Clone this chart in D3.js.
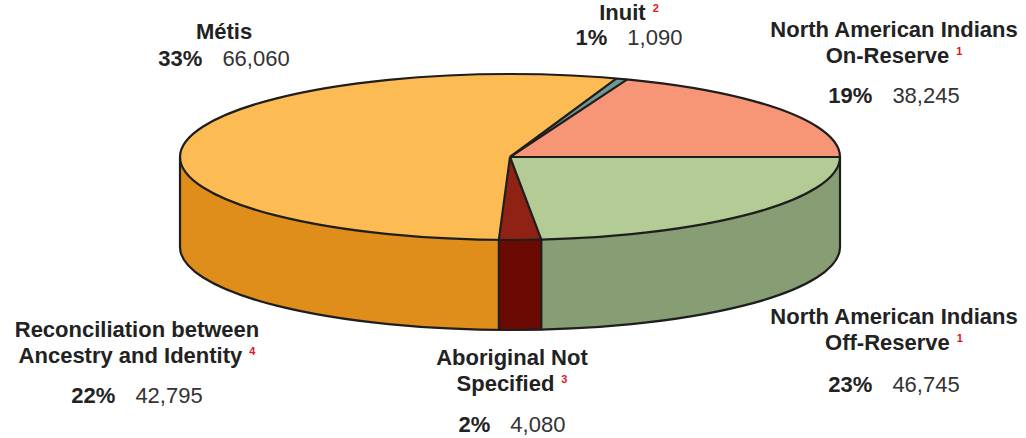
<!DOCTYPE html>
<html>
<head>
<meta charset="utf-8">
<script src="https://cdn.jsdelivr.net/npm/d3@7"></script>
<style>
    body { margin: 0; background: #fff; }
    text { font-family: "Liberation Sans", Arial, Helvetica, sans-serif; }
</style>
</head>
<body>
<svg id="chart" width="1026" height="438"></svg>
<script>
// slices, clockwise starting from 3 o'clock
var categories = ["North American Indians Off-Reserve", "Aboriginal Not Specified",
    "Reconciliation between Ancestry and Identity", "Métis", "Inuit", "North American Indians On-Reserve"];
var values = [46745, 4080, 42795, 66060, 1090, 38245];
var percents = ["23%", "2%", "22%", "33%", "1%", "19%"];
var footnotes = ["1", "3", "4", "", "2", "1"];
var nameLines = [
    ["North American Indians", "Off-Reserve"],
    ["Aboriginal Not", "Specified"],
    ["Reconciliation between", "Ancestry and Identity"],
    ["Métis"],
    ["Inuit"],
    ["North American Indians", "On-Reserve"]
];

// colours (top face / side wall)
var topColors = ["#b3cc96", "#8f2115", "#fdbb53", "#fdbb53", "#6f9893", "#f69676"];
var sideColors = ["#879d73", "#6a0a03", "#df8d1b", "#df8d1b", "#4f706c", "#c8704f"];

// label placement: centre x, first baseline, value baseline
var labelPos = [
    { x: 894, y: 324, vy: 392 },
    { x: 512, y: 365, vy: 432 },
    { x: 137, y: 337, vy: 403 },
    { x: 224, y: 39, vy: 66 },
    { x: 629, y: 20, vy: 45 },
    { x: 894, y: 37, vy: 103 }
];

var cx = 510, cy = 157, rx = 330, ry = 83, depth = 90;
var ink = "#1e1e1e";

var svg = d3.select("#chart");

var pie = d3.pie()
    .sort(null)
    .startAngle(Math.PI / 2)
    .endAngle(Math.PI / 2 + 2 * Math.PI)
    .value(function (d) { return d; });

var arcs = pie(values);

function px(a) { return cx + rx * Math.sin(a); }
function py(a, dy) { return cy - ry * Math.cos(a) + (dy || 0); }

// side walls (only the front half, between 90deg and 270deg, is visible)
var walls = svg.append("g");
arcs.forEach(function (d, i) {
    var w0 = Math.max(d.startAngle, Math.PI / 2),
        w1 = Math.min(d.endAngle, 3 * Math.PI / 2);
    if (w1 <= w0) return;
    var p = "M" + px(w0) + "," + py(w0) +
        "A" + rx + "," + ry + " 0 0 1 " + px(w1) + "," + py(w1) +
        "L" + px(w1) + "," + py(w1, depth) +
        "A" + rx + "," + ry + " 0 0 0 " + px(w0) + "," + py(w0, depth) + "Z";
    walls.append("path")
        .attr("d", p)
        .attr("fill", sideColors[i])
        .attr("stroke", sideColors[i])
        .attr("stroke-width", 1);
});

// top faces
var tops = svg.append("g");
arcs.forEach(function (d, i) {
    var large = (d.endAngle - d.startAngle) > Math.PI ? 1 : 0;
    var p = "M" + cx + "," + cy +
        "L" + px(d.startAngle) + "," + py(d.startAngle) +
        "A" + rx + "," + ry + " 0 " + large + " 1 " + px(d.endAngle) + "," + py(d.endAngle) + "Z";
    tops.append("path")
        .attr("d", p)
        .attr("fill", topColors[i])
        .attr("stroke", topColors[i])
        .attr("stroke-width", 1);
});

// outlines
var lines = svg.append("g")
    .attr("fill", "none")
    .attr("stroke", ink)
    .attr("stroke-width", 2.2)
    .attr("stroke-linejoin", "round");

lines.append("path")
    .attr("d", "M" + px(Math.PI / 2) + "," + py(Math.PI / 2) +
        "L" + px(Math.PI / 2) + "," + py(Math.PI / 2, depth) +
        "A" + rx + "," + ry + " 0 0 1 " + px(3 * Math.PI / 2) + "," + py(3 * Math.PI / 2, depth) +
        "L" + px(3 * Math.PI / 2) + "," + py(3 * Math.PI / 2));

lines.append("ellipse")
    .attr("cx", cx).attr("cy", cy)
    .attr("rx", rx).attr("ry", ry);

arcs.forEach(function (d, i) {
    var prev = (i + arcs.length - 1) % arcs.length;
    var a = d.startAngle;
    if (topColors[i] !== topColors[prev]) {
        lines.append("line")
            .attr("x1", cx).attr("y1", cy)
            .attr("x2", px(a)).attr("y2", py(a));
    }
    if (a > Math.PI / 2 && a < 3 * Math.PI / 2 && sideColors[i] !== sideColors[prev]) {
        lines.append("line")
            .attr("x1", px(a)).attr("y1", py(a))
            .attr("x2", px(a)).attr("y2", py(a, depth));
    }
});

// labels
var labels = svg.append("g")
    .attr("text-anchor", "middle")
    .attr("fill", "#222");

arcs.forEach(function (d, i) {
    var pos = labelPos[i];
    nameLines[i].forEach(function (line, j) {
        var t = labels.append("text")
            .attr("x", pos.x)
            .attr("y", pos.y + j * 26)
            .style("font-size", "22px")
            .style("font-weight", "bold")
            .text(line);
        if (j === nameLines[i].length - 1 && footnotes[i]) {
            t.append("tspan")
                .attr("dx", 7)
                .attr("dy", -8)
                .attr("fill", "#e3131b")
                .style("font-size", "11px")
                .text(footnotes[i]);
        }
    });

    var v = labels.append("text")
        .attr("x", pos.x)
        .attr("y", pos.vy)
        .style("font-size", "22px");
    v.append("tspan")
        .style("font-weight", "bold")
        .text(percents[i]);
    v.append("tspan")
        .attr("dx", 20)
        .attr("fill", "#333")
        .text(d3.format(",")(values[i]));
});
</script>
</body>
</html>
